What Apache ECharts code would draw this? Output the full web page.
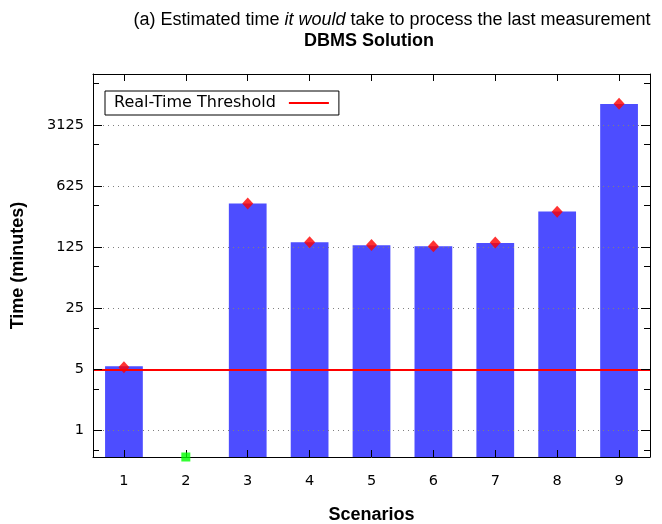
<!DOCTYPE html>
<html><head><meta charset="utf-8">
<script src="https://cdn.jsdelivr.net/npm/echarts@6/dist/echarts.min.js"></script>
<style>html,body{margin:0;padding:0;background:#fff}#c{width:662px;height:524px}</style>
</head><body><div id="c"></div>
<script>
const categories = ['1', '2', '3', '4', '5', '6', '7', '8', '9'];
const estimatedTime = [5.45, '-', 397, 143, 132, 129, 140, 321, 5460];
const markerTime = [5.3, '-', 397, 143, 133, 129, 142, 320, 5480];
const noResult = ['-', 0.5, '-', '-', '-', '-', '-', '-', '-'];
const threshold = 5;
const yTickLabels = [1, 5, 25, 125, 625, 3125];
const yMin = 0.5, yMax = 12000;

const chart = echarts.init(document.getElementById('c'), null, {renderer: 'canvas'});
const tickFont = 'DejaVu Sans';
const titleFont = 'Liberation Sans';

function yLabel(v) {
  const r = Math.round(v);
  return yTickLabels.indexOf(r) >= 0 && Math.abs(v - r) < 1e-6 * Math.max(1, r) ? String(r) : '';
}

const gridLine = {show: true, showMinLine: false, showMaxLine: false, lineStyle: {color: '#808080', width: 1, type: [1, 4]}};

chart.setOption({
  animation: false,
  backgroundColor: '#fff',
  graphic: [
    {type: 'text', x: 392, y: 20, z: 10,
     style: {text: '(a) Estimated time {i|it would} take to process the last measurement',
             rich: {i: {fontStyle: 'italic', fontFamily: titleFont, fontSize: 18, fill: '#000'}},
             fontFamily: titleFont, fontSize: 18, fill: '#000', align: 'center', verticalAlign: 'middle'}},
    {type: 'text', x: 369, y: 41, z: 10,
     style: {text: 'DBMS Solution', fontFamily: titleFont, fontWeight: 'bold', fontSize: 18, fill: '#000', align: 'center', verticalAlign: 'middle'}}
  ],
  grid: {left: 93, right: 12, top: 74, bottom: 67, containLabel: false, outerBoundsMode: 'none'},
  legend: {
    data: [{name: 'Real-Time Threshold', icon: 'rect'}],
    left: 105, top: 91, align: 'right', itemWidth: 40, itemHeight: 2,
    borderColor: '#000', borderWidth: 1, padding: [4, 10, 4, 9],
    textStyle: {fontFamily: tickFont, fontSize: 16, color: '#000', padding: [0, 8, 0, 0]},
    selectedMode: false
  },
  xAxis: [
    {type: 'category', data: categories, position: 'bottom', boundaryGap: true, z: 6,
     axisLine: {show: true, onZero: false, lineStyle: {color: '#000', width: 1}},
     axisTick: {show: true, inside: true, alignWithLabel: true, length: 7, lineStyle: {color: '#000'}},
     axisLabel: {fontFamily: tickFont, fontSize: 14.5, color: '#000', margin: 17},
     splitLine: {show: false},
     name: 'Scenarios', nameLocation: 'middle', nameGap: 49,
     nameTextStyle: {fontFamily: titleFont, fontWeight: 'bold', fontSize: 18, color: '#000'}},
    {type: 'category', data: categories, position: 'top', boundaryGap: true, z: 6,
     axisLine: {show: true, onZero: false, lineStyle: {color: '#000', width: 1}},
     axisTick: {show: true, inside: true, alignWithLabel: true, length: 7, lineStyle: {color: '#000'}},
     axisLabel: {show: false}, splitLine: {show: false}}
  ],
  yAxis: [
    {type: 'log', logBase: 5, min: yMin, max: yMax, startValue: yMin, position: 'left', z: 6,
     axisLine: {show: true, onZero: false, lineStyle: {color: '#000', width: 1}},
     axisTick: {show: true, inside: true, length: 9, lineStyle: {color: '#000'}},
     minorTick: {show: true, splitNumber: 2, length: 6, lineStyle: {color: '#000'}},
     axisLabel: {formatter: yLabel, fontFamily: tickFont, fontSize: 14.5, color: '#000', margin: 9},
     splitLine: {show: false},
     name: 'Time (minutes)', nameLocation: 'middle', nameGap: 66,
     nameTextStyle: {fontFamily: titleFont, fontWeight: 'bold', fontSize: 18, color: '#000'}},
    {type: 'log', logBase: 5, min: yMin, max: yMax, startValue: yMin, position: 'right', z: 5,
     axisLine: {show: true, onZero: false, lineStyle: {color: '#000', width: 1}},
     axisTick: {show: true, inside: true, length: 9, lineStyle: {color: '#000'}},
     minorTick: {show: true, splitNumber: 2, length: 6, lineStyle: {color: '#000'}},
     axisLabel: {show: false},
     splitLine: gridLine}
  ],
  series: [
    {type: 'bar', name: 'Estimated', data: estimatedTime, barWidth: '61%', z: 2,
     itemStyle: {color: '#4d4dff'}},
    {type: 'line', name: 'Real-Time Threshold', data: [], symbol: 'none', z: 4,
     itemStyle: {color: '#ff0000'}, lineStyle: {color: '#ff0000', width: 2},
     markLine: {symbol: 'none', silent: true, label: {show: false},
                lineStyle: {color: '#ff0000', width: 2, type: 'solid'},
                data: [{yAxis: threshold}]}},
    {type: 'scatter', name: 'Marker', data: markerTime, symbol: 'diamond', symbolSize: [11, 12], z: 5,
     itemStyle: {color: '#ff0000'}},
    {type: 'scatter', name: 'No result', data: noResult, symbol: 'rect', symbolSize: 9, z: 8,
     itemStyle: {color: '#00ff00'}, clip: false}
  ]
});
</script>
</body></html>
